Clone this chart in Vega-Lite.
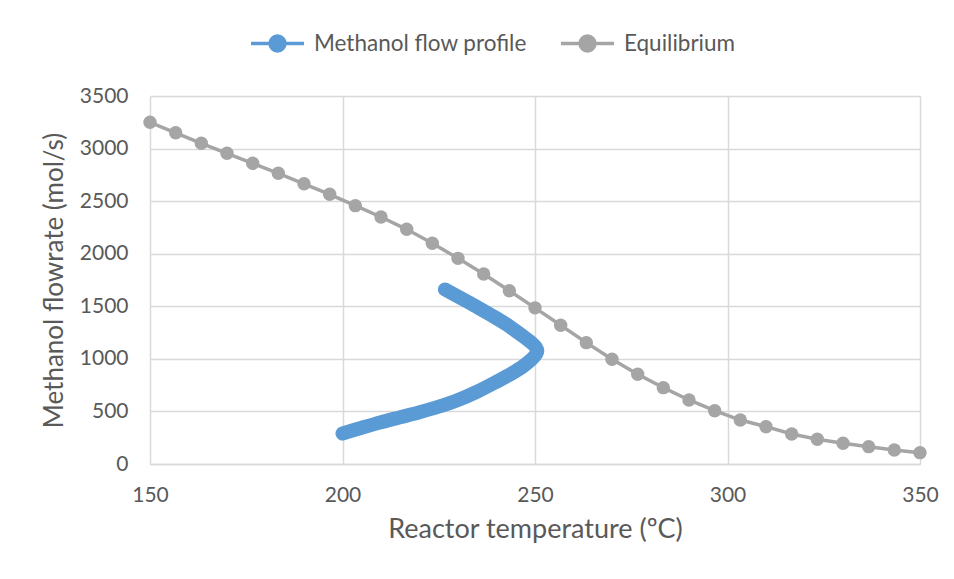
{
  "$schema": "https://vega.github.io/schema/vega-lite/v6.json",
  "autosize": "none",
  "width": 770,
  "height": 368,
  "padding": {"left": 150, "top": 96, "right": 34, "bottom": 115},
  "background": "white",
  "config": {
    "view": {"stroke": null},
    "font": "Lato",
    "axis": {
      "grid": true,
      "gridColor": "#D9D9D9",
      "gridWidth": 1.5,
      "ticks": false,
      "labelFlush": false,
      "labelFont": "Lato",
      "labelFontSize": 21,
      "labelColor": "#595959",
      "titleFont": "Lato",
      "titleFontSize": 26,
      "titleFontWeight": "normal",
      "titleColor": "#595959"
    }
  },
  "datasets": {
    "equilibrium": [
      {"T": 150.0, "F": 3250, "series": "Equilibrium"},
      {"T": 156.67, "F": 3150, "series": "Equilibrium"},
      {"T": 163.33, "F": 3050, "series": "Equilibrium"},
      {"T": 170.0, "F": 2955, "series": "Equilibrium"},
      {"T": 176.67, "F": 2860, "series": "Equilibrium"},
      {"T": 183.33, "F": 2765, "series": "Equilibrium"},
      {"T": 190.0, "F": 2665, "series": "Equilibrium"},
      {"T": 196.67, "F": 2565, "series": "Equilibrium"},
      {"T": 203.33, "F": 2457, "series": "Equilibrium"},
      {"T": 210.0, "F": 2349, "series": "Equilibrium"},
      {"T": 216.67, "F": 2232, "series": "Equilibrium"},
      {"T": 223.33, "F": 2100, "series": "Equilibrium"},
      {"T": 230.0, "F": 1956, "series": "Equilibrium"},
      {"T": 236.67, "F": 1807, "series": "Equilibrium"},
      {"T": 243.33, "F": 1648, "series": "Equilibrium"},
      {"T": 250.0, "F": 1485, "series": "Equilibrium"},
      {"T": 256.67, "F": 1319, "series": "Equilibrium"},
      {"T": 263.33, "F": 1154, "series": "Equilibrium"},
      {"T": 270.0, "F": 996, "series": "Equilibrium"},
      {"T": 276.67, "F": 853, "series": "Equilibrium"},
      {"T": 283.33, "F": 726, "series": "Equilibrium"},
      {"T": 290.0, "F": 609, "series": "Equilibrium"},
      {"T": 296.67, "F": 507, "series": "Equilibrium"},
      {"T": 303.33, "F": 418, "series": "Equilibrium"},
      {"T": 310.0, "F": 355, "series": "Equilibrium"},
      {"T": 316.67, "F": 285, "series": "Equilibrium"},
      {"T": 323.33, "F": 235, "series": "Equilibrium"},
      {"T": 330.0, "F": 197, "series": "Equilibrium"},
      {"T": 336.67, "F": 165, "series": "Equilibrium"},
      {"T": 343.33, "F": 133, "series": "Equilibrium"},
      {"T": 350.0, "F": 108, "series": "Equilibrium"}
    ],
    "profile": [
      {"step": 1, "T": 200.0, "F": 290, "series": "Methanol flow profile"},
      {"step": 2, "T": 205.0, "F": 345, "series": "Methanol flow profile"},
      {"step": 3, "T": 210.0, "F": 398, "series": "Methanol flow profile"},
      {"step": 4, "T": 215.0, "F": 445, "series": "Methanol flow profile"},
      {"step": 5, "T": 220.0, "F": 492, "series": "Methanol flow profile"},
      {"step": 6, "T": 225.0, "F": 545, "series": "Methanol flow profile"},
      {"step": 7, "T": 230.0, "F": 608, "series": "Methanol flow profile"},
      {"step": 8, "T": 235.0, "F": 688, "series": "Methanol flow profile"},
      {"step": 9, "T": 240.0, "F": 782, "series": "Methanol flow profile"},
      {"step": 10, "T": 244.0, "F": 862, "series": "Methanol flow profile"},
      {"step": 11, "T": 247.0, "F": 932, "series": "Methanol flow profile"},
      {"step": 12, "T": 249.2, "F": 998, "series": "Methanol flow profile"},
      {"step": 13, "T": 250.3, "F": 1045, "series": "Methanol flow profile"},
      {"step": 14, "T": 250.6, "F": 1080, "series": "Methanol flow profile"},
      {"step": 15, "T": 250.2, "F": 1112, "series": "Methanol flow profile"},
      {"step": 16, "T": 249.2, "F": 1150, "series": "Methanol flow profile"},
      {"step": 17, "T": 247.6, "F": 1196, "series": "Methanol flow profile"},
      {"step": 18, "T": 245.3, "F": 1258, "series": "Methanol flow profile"},
      {"step": 19, "T": 242.4, "F": 1332, "series": "Methanol flow profile"},
      {"step": 20, "T": 239.0, "F": 1408, "series": "Methanol flow profile"},
      {"step": 21, "T": 235.2, "F": 1488, "series": "Methanol flow profile"},
      {"step": 22, "T": 231.0, "F": 1572, "series": "Methanol flow profile"},
      {"step": 23, "T": 226.6, "F": 1660, "series": "Methanol flow profile"}
    ]
  },
  "encoding": {
    "x": {
      "field": "T",
      "type": "quantitative",
      "scale": {"domain": [150, 350], "nice": false, "zero": false},
      "axis": {
        "values": [150, 200, 250, 300, 350],
        "format": "d",
        "title": "Reactor temperature (ºC)",
        "titleFontSize": 27,
        "domainColor": "#D9D9D9",
        "domainWidth": 1.5,
        "labelPadding": 20,
        "titlePadding": 11
      }
    },
    "y": {
      "field": "F",
      "type": "quantitative",
      "scale": {"domain": [0, 3500], "nice": false},
      "axis": {
        "values": [0, 500, 1000, 1500, 2000, 2500, 3000, 3500],
        "format": "d",
        "title": "Methanol flowrate (mol/s)",
        "domain": false,
        "labelPadding": 22,
        "titlePadding": 12
      }
    },
    "color": {
      "field": "series",
      "type": "nominal",
      "scale": {
        "domain": ["Methanol flow profile", "Equilibrium"],
        "range": ["#5B9BD5", "#A5A5A5"]
      },
      "legend": {
        "title": null,
        "orient": "none",
        "direction": "horizontal",
        "legendX": 99,
        "legendY": -81,
        "symbolType": "M-1,0H1M0.28,0A0.28,0.28,0,1,1,-0.28,0A0.28,0.28,0,1,1,0.28,0Z",
        "symbolSize": 2809,
        "symbolStrokeWidth": 3.5,
        "labelFont": "Lato",
        "labelFontSize": 22.5,
        "labelColor": "#595959",
        "labelLimit": 0,
        "labelOffset": 8,
        "columnPadding": 27,
        "encode": {
          "symbols": {
            "update": {
              "fill": {"scale": "color", "field": "value"},
              "stroke": {"scale": "color", "field": "value"},
              "opacity": {"value": 1}
            }
          }
        }
      }
    }
  },
  "layer": [
    {
      "data": {"name": "equilibrium"},
      "mark": {
        "type": "line",
        "strokeWidth": 3.5,
        "point": {"filled": true, "size": 180, "opacity": 1}
      }
    },
    {
      "data": {"name": "profile"},
      "mark": {
        "type": "line",
        "strokeWidth": 14,
        "strokeCap": "round",
        "strokeJoin": "round",
        "interpolate": "catmull-rom"
      },
      "encoding": {
        "order": {"field": "step", "type": "quantitative"}
      }
    }
  ]
}
